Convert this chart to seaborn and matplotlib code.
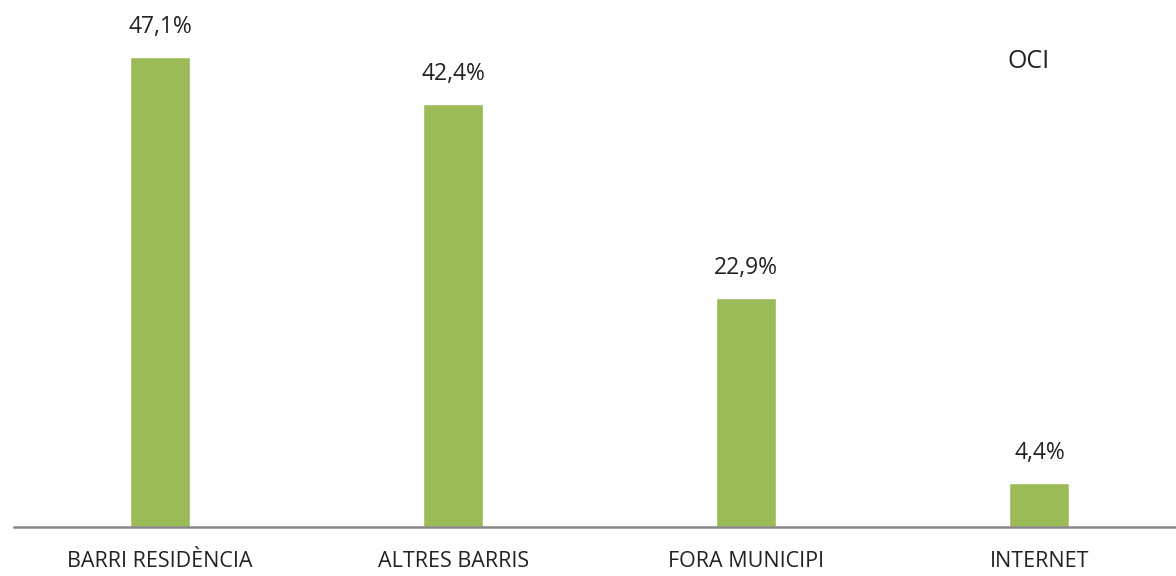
import matplotlib
matplotlib.use("Agg")
import matplotlib.pyplot as plt
import seaborn as sns
import pandas as pd

# data
categories = ["BARRI RESIDÈNCIA", "ALTRES BARRIS", "FORA MUNICIPI", "INTERNET"]
values = [47.1, 42.4, 22.9, 4.4]
labels = ["47,1%", "42,4%", "22,9%", "4,4%"]

df = pd.DataFrame({"cat": categories, "val": values})

sns.set_style("white")
plt.rcParams["font.family"] = ["Open Sans", "DejaVu Sans"]

fig = plt.figure(figsize=(11.76, 5.76), dpi=100)
ax = fig.add_axes([0.0115, 0.085, 0.997, 0.915])

sns.barplot(data=df, x="cat", y="val", color="#9BBB59", width=0.205,
            saturation=1, ax=ax)

for i, (v, lab) in enumerate(zip(values, labels)):
    ax.text(i, v + 1.8, lab, ha="center", va="bottom", fontsize=16.5, color="#222222")

ax.set_ylim(0, 52.8)
ax.set_xlim(-0.5, 3.5)
ax.set_xlabel("")
ax.set_ylabel("")
ax.set_yticks([])
ax.tick_params(axis="x", length=0, pad=17, labelsize=15.5, colors="#222222")
for s in ["top", "right", "left"]:
    ax.spines[s].set_visible(False)
ax.spines["bottom"].set_color("#888888")
ax.spines["bottom"].set_linewidth(1.8)

ax.text(0.866, 0.883, "OCI", transform=ax.transAxes, fontsize=18, color="#222222",
        ha="center", va="center")

fig.savefig("out.png", dpi=100)
